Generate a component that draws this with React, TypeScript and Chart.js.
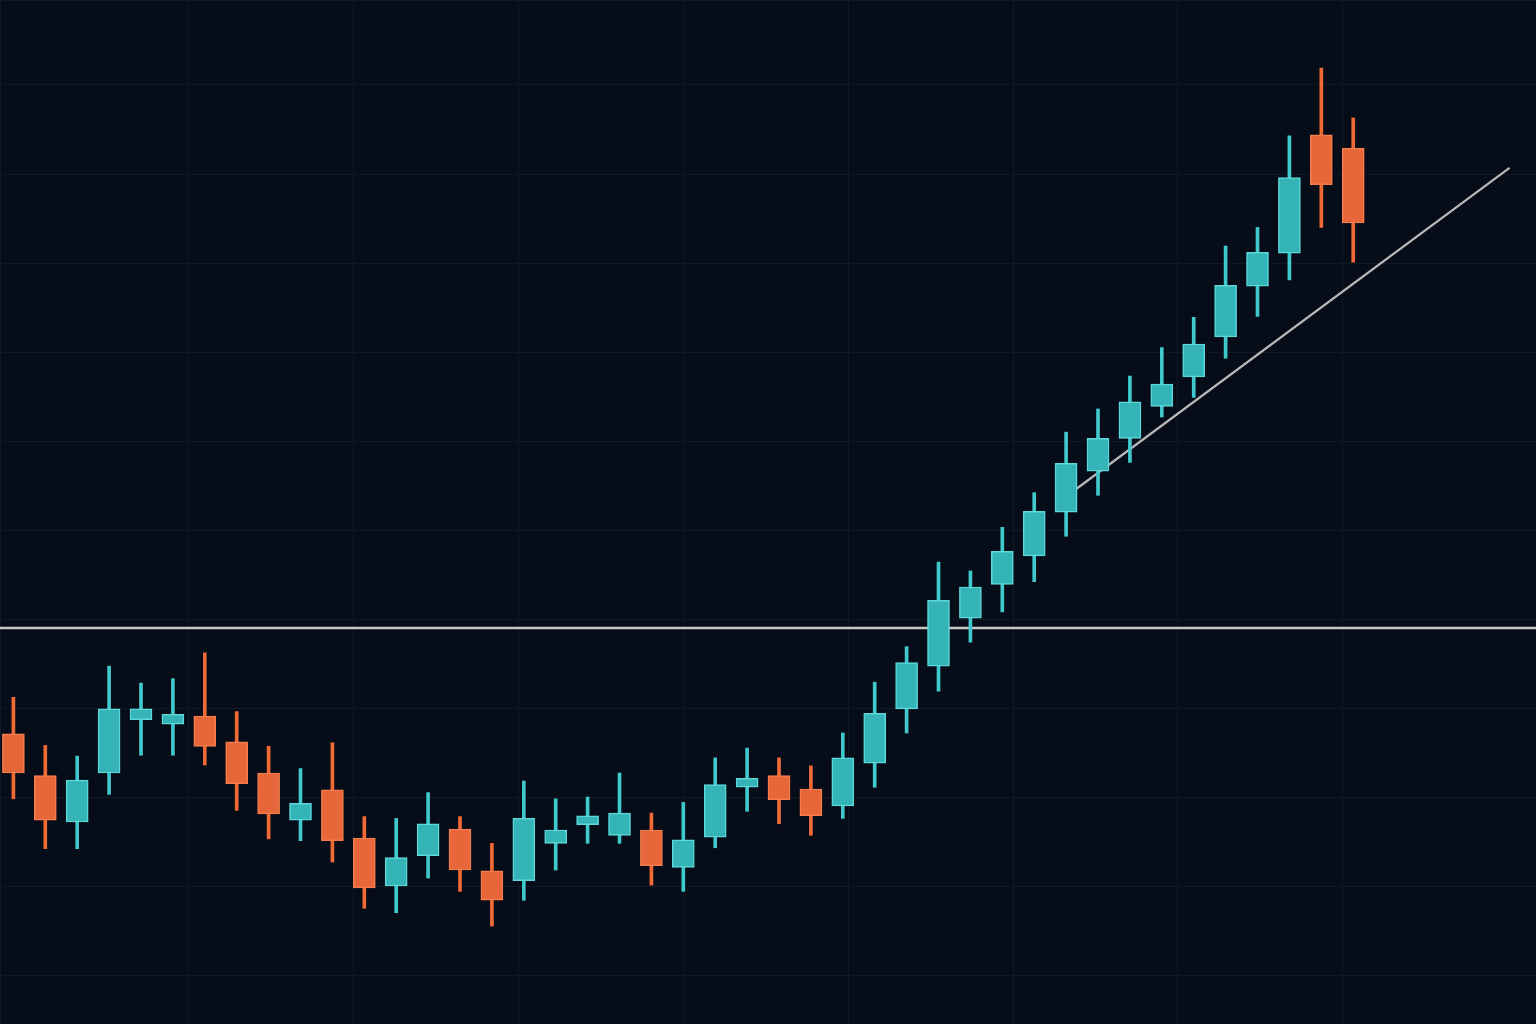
import { useEffect, useRef } from "react";
import { Chart, registerables } from "chart.js";

Chart.register(...registerables);

// ---- Data ----
const periods = [
  "P00", "P01", "P02", "P03", "P04", "P05", "P06", "P07", "P08", "P09",
  "P10", "P11", "P12", "P13", "P14", "P15", "P16", "P17", "P18", "P19",
  "P20", "P21", "P22", "P23", "P24", "P25", "P26", "P27", "P28", "P29",
  "P30", "P31", "P32", "P33", "P34", "P35", "P36", "P37", "P38", "P39",
  "P40", "P41", "P42", "P43",
];

const opens = [
  37.1, 37.1, 32.4, 27.2, 32.7, 38.7, 38.2, 39.1, 36.2, 32.7,
  27.4, 30.8, 25.4, 20.0, 23.4, 26.4, 21.7, 20.6, 24.8, 26.9,
  25.7, 26.3, 22.1, 25.5, 31.1, 32.4, 30.9, 29.0, 33.8, 39.9,
  44.7, 50.1, 53.9, 57.1, 62.0, 66.6, 70.3, 73.9, 77.2, 81.7,
  87.4, 91.1, 104.4, 102.9,
];

const highs = [
  38.4, 41.2, 35.8, 34.6, 44.7, 42.8, 43.3, 46.2, 39.6, 35.7,
  33.2, 36.1, 27.8, 27.6, 30.5, 27.8, 24.8, 31.8, 29.8, 30.0,
  32.7, 28.2, 29.4, 34.4, 35.5, 34.4, 33.5, 37.2, 42.9, 46.9,
  56.4, 55.4, 60.3, 64.2, 71.0, 73.6, 77.3, 80.5, 83.9, 91.9,
  94.0, 104.3, 111.9, 106.3,
];

const lows = [
  34.2, 29.8, 24.2, 24.2, 30.3, 34.7, 34.7, 33.6, 28.5, 25.3,
  25.1, 22.7, 17.5, 17.0, 20.9, 19.4, 15.5, 18.4, 21.8, 24.8,
  24.8, 20.1, 19.4, 24.3, 28.4, 27.0, 25.7, 27.6, 31.1, 37.2,
  41.9, 47.4, 50.8, 54.2, 59.3, 63.9, 67.6, 72.7, 74.9, 79.3,
  84.0, 88.1, 94.0, 90.1,
];

const closes = [
  35.7, 32.7, 27.4, 31.9, 39.9, 39.9, 39.3, 35.7, 31.5, 28.1,
  29.3, 25.1, 19.8, 23.2, 27.0, 21.8, 18.4, 27.6, 26.3, 27.9,
  28.2, 22.3, 25.2, 31.4, 32.1, 29.7, 27.9, 34.4, 39.4, 45.1,
  52.1, 53.6, 57.6, 62.1, 67.5, 70.3, 74.4, 76.4, 80.9, 87.5,
  91.2, 99.6, 98.8, 94.5,
];

// horizontal level and rising trend line
const supportLevel = 49.0;
const trendX = [34.2, 47.9];
const trendY = [64.3, 100.7];

// ---- Styles ----
const BG = "#070d18";
const GRID = "#0f1825";
const UP_FILL = "#34b4b7";
const UP_EDGE = "#5cd8da";
const UP_WICK = "#40c9cc";
const DN_FILL = "#e8673a";
const DN_EDGE = "#f67d4c";
const DN_WICK = "#f06a35";

export default function App() {
  const ref = useRef<HTMLCanvasElement>(null);

  useEffect(() => {
    document.body.style.margin = "0";
    document.body.style.background = BG;
    const canvas = ref.current;
    if (!canvas) return;

    const up = periods.map((_, i) => closes[i] >= opens[i]);
    const bodies = periods.map((_, i) => ({ x: i, y: [opens[i], closes[i]] }));
    const wicks = periods.map((_, i) => ({ x: i, y: [lows[i], highs[i]] }));

    const chart = new Chart(canvas, {
      type: "bar",
      data: {
        datasets: [
          {
            type: "line",
            label: "Level",
            data: [
              { x: -5, y: supportLevel },
              { x: 60, y: supportLevel },
            ],
            borderColor: "#c9c9c9",
            borderWidth: 2.5,
            pointRadius: 0,
            order: 10,
          } as any,
          {
            type: "line",
            label: "Trend",
            data: trendX.map((x, i) => ({ x, y: trendY[i] })),
            borderColor: "#b8b8b8",
            borderWidth: 2.2,
            pointRadius: 0,
            order: 9,
          } as any,
          {
            label: "Wick",
            data: wicks as any,
            backgroundColor: up.map((u) => (u ? UP_WICK : DN_WICK)),
            borderWidth: 0,
            barThickness: 3,
            grouped: false,
            order: 2,
          } as any,
          {
            label: "Body",
            data: bodies as any,
            backgroundColor: up.map((u) => (u ? UP_FILL : DN_FILL)),
            borderColor: up.map((u) => (u ? UP_EDGE : DN_EDGE)),
            borderWidth: 1.5,
            borderSkipped: false,
            barThickness: 22,
            grouped: false,
            order: 1,
          } as any,
        ],
      },
      options: {
        animation: false,
        responsive: true,
        maintainAspectRatio: false,
        layout: { padding: 0 },
        plugins: { legend: { display: false }, tooltip: { enabled: false } },
        scales: {
          x: {
            type: "linear",
            min: 0.58,
            max: 48.73,
            offset: false,
            ticks: { display: false },
            grid: { display: false, drawTicks: false, offset: false },
            border: { display: false },
          },
          xg: {
            type: "linear",
            position: "bottom",
            min: -0.14,
            max: 9.17,
            offset: false,
            ticks: { display: false, stepSize: 1 },
            grid: { color: GRID, drawTicks: false, offset: false },
            border: { display: false },
          },
          y: {
            type: "linear",
            min: 4.5,
            max: 119.55,
            ticks: { display: false, stepSize: 10 },
            grid: { color: GRID, drawTicks: false },
            border: { display: false },
          },
        },
      } as any,
    });

    return () => chart.destroy();
  }, []);

  return (
    <div style={{ position: "fixed", inset: 0, background: BG }}>
      <canvas ref={ref} />
    </div>
  );
}
